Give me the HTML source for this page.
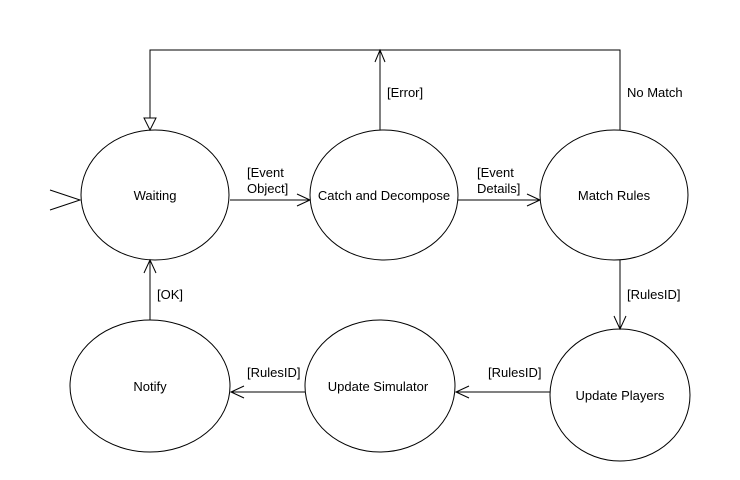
<!DOCTYPE html>
<html><head><style>
html,body{margin:0;padding:0;background:#fff;}
svg{display:block;}
text{font-family:"Liberation Sans",Arial,sans-serif;font-size:13px;fill:#000;}
</style></head><body>
<svg width="740" height="480" viewBox="0 0 740 480" xmlns="http://www.w3.org/2000/svg">
<g fill="none" stroke="#000" stroke-width="1">
<ellipse cx="155" cy="195" rx="74" ry="65"/>
<ellipse cx="384" cy="195" rx="74" ry="65"/>
<ellipse cx="614" cy="195" rx="74" ry="65"/>
<ellipse cx="150" cy="386" rx="80" ry="66"/>
<ellipse cx="380" cy="386" rx="75" ry="66"/>
<ellipse cx="620" cy="395" rx="70" ry="66"/>
<!-- initial -->
<path d="M50 190 L80 200 L50 210"/>
<!-- top loop -->
<path d="M620 130 V50 H150 V118"/>
<path d="M144 118 H156 L150 130 Z"/>
<!-- error -->
<path d="M380 130 V50"/>
<path d="M375 62 L380 50 L385 62"/>
<!-- waiting -> catch -->
<path d="M230 200 H310"/>
<path d="M297 194 L310 200 L297 206"/>
<!-- catch -> match -->
<path d="M458 200 H540"/>
<path d="M527 194 L540 200 L527 206"/>
<!-- match -> players -->
<path d="M620 260 V329"/>
<path d="M614 316 L620 329 L626 316"/>
<!-- players -> simulator -->
<path d="M550 392 H456"/>
<path d="M469 386 L456 392 L469 398"/>
<!-- simulator -> notify -->
<path d="M305 392 H231"/>
<path d="M244 386 L231 392 L244 398"/>
<!-- notify -> waiting -->
<path d="M150 320 V260"/>
<path d="M144 273 L150 260 L156 273"/>
</g>
<text x="155" y="200" text-anchor="middle">Waiting</text>
<text x="384" y="200" text-anchor="middle">Catch and Decompose</text>
<text x="614" y="200" text-anchor="middle">Match Rules</text>
<text x="150" y="391" text-anchor="middle">Notify</text>
<text x="378" y="391" text-anchor="middle">Update Simulator</text>
<text x="620" y="400" text-anchor="middle">Update Players</text>
<text x="247" y="177">[Event</text>
<text x="247" y="193">Object]</text>
<text x="477" y="177">[Event</text>
<text x="477" y="193">Details]</text>
<text x="387" y="97">[Error]</text>
<text x="627" y="97">No Match</text>
<text x="627" y="299">[RulesID]</text>
<text x="488" y="377">[RulesID]</text>
<text x="247" y="377">[RulesID]</text>
<text x="157" y="299">[OK]</text>
</svg>
</body></html>
